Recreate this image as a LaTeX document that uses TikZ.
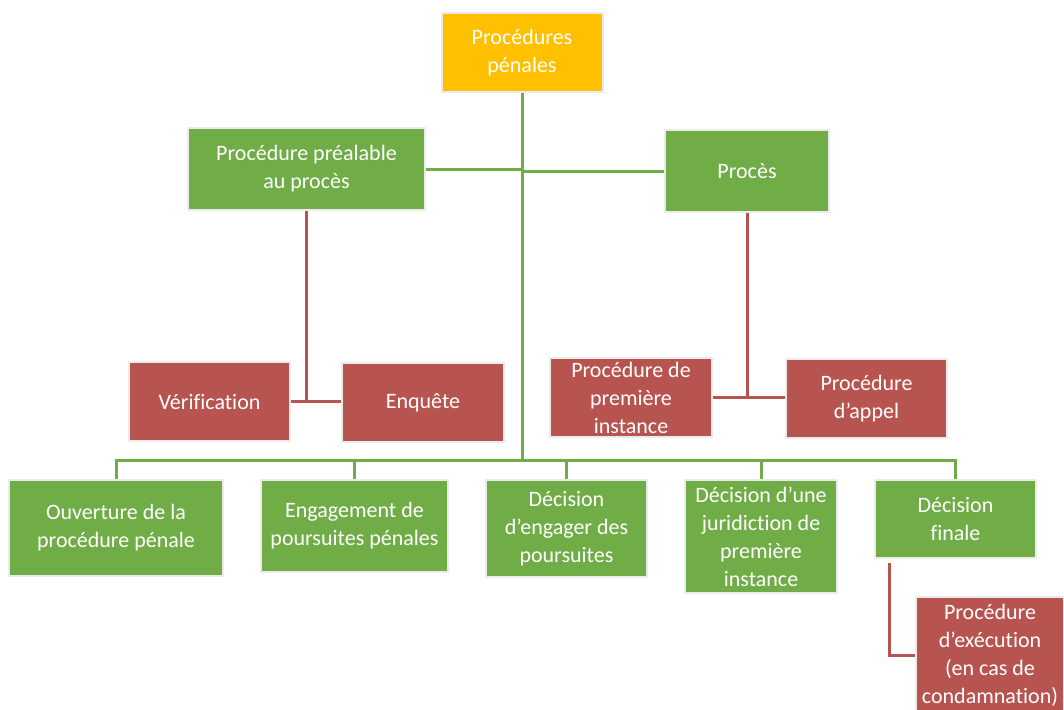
\documentclass[tikz,border=0pt]{standalone}
\usepackage{fontspec}
\setmainfont{Carlito}[Ligatures={NoCommon}]
\usepackage{tikz}
\usetikzlibrary{positioning, calc}
\definecolor{goldbox}{HTML}{FFC000}
\definecolor{greenbox}{HTML}{70AD47}
\definecolor{redbox}{HTML}{B85450}
\tikzstyle{basebox}=[rectangle,draw=black!8,line width=1pt,text=white,
align=center,inner sep=0pt,font=\fontsize{11}{14}\selectfont]
\tikzstyle{rootnode}=[basebox, fill=goldbox]
\tikzstyle{stagenode}=[basebox, fill=greenbox]
\tikzstyle{subnode}=[basebox, fill=redbox]
\tikzstyle{greenline} = [draw=greenbox, line width=1.5pt]
\tikzstyle{redline} = [draw=redbox, line width=1.5pt]

\begin{document}
\begin{tikzpicture}[x=0.5pt, y=-0.5pt]
    \useasboundingbox (0,0) rectangle (1064,709);
    \begin{scope}
    \clip (0,0) rectangle (1064,709);
    \node[rootnode, minimum width=80.5pt, minimum height=39.5pt] (proc) at (522,52.5) {Procédures\\pénales};
    
    \node[stagenode, minimum width=118.5pt, minimum height=41pt] (prealable) at (306.5,169) {Procédure préalable\\au procès};
    \node[stagenode, minimum width=82pt, minimum height=41pt] (proces) at (747,171) {Procès};
    
    \node[subnode, minimum width=80.5pt, minimum height=39.5pt] (verif) at (209.5,401.5) {Vérification};
    \node[subnode, minimum width=81pt, minimum height=39.5pt] (enquete) at (423,402.5) {Enquête};
    \node[subnode, minimum width=81pt, minimum height=39.5pt] (premiere) at (631,397.5) {Procédure de\\première\\instance};
    \node[subnode, minimum width=80.5pt, minimum height=39.5pt] (appel) at (866.5,398.5) {Procédure\\d’appel};
    
    \node[stagenode, minimum width=107pt, minimum height=48pt] (ouverture) at (116,528) {Ouverture de la\\procédure pénale};
    \node[stagenode, minimum width=93.5pt, minimum height=46pt] (engagement) at (354.5,526) {Engagement de\\poursuites pénales};
    \node[stagenode, minimum width=80.5pt, minimum height=48.5pt] (decengager) at (566.5,528.5) {Décision\\d’engager des\\poursuites};
    \node[stagenode, minimum width=76pt, minimum height=56.5pt] (decjuri) at (761,536.5) {Décision d’une\\juridiction de\\première\\instance};
    \node[stagenode, minimum width=80.5pt, minimum height=39pt] (decfinale) at (955.5,519) {Décision\\finale};
    
    \node[subnode, minimum width=74pt, minimum height=58pt] (execution) at (990,655) {Procédure\\d’exécution\\(en cas de\\condamnation)};
    
    \coordinate (junction) at (522,460);
    
    \draw[greenline] (proc.south) -- (junction);
    \draw[greenline] (prealable.east) -- (proc.south |- prealable.east);
    \draw[greenline] (proces.west) -- (proc.south |- proces.west);
    \draw[greenline] (ouverture.north) |- (decfinale.north |- junction) -- (decfinale.north);
    \draw[greenline] (engagement.north) -- (engagement.north |- junction);
    \draw[greenline] (decengager.north) -- (decengager.north |- junction);
    \draw[greenline] (decjuri.north) -- (decjuri.north |- junction);
    
    \draw[redline] (prealable.south) -- (prealable.south |- verif.east);
    \draw[redline] (verif.east) -- (verif.east -| enquete.west);
    \draw[redline] (proces.south) -- (proces.south |- premiere.east);
    \draw[redline] (premiere.east) -- (premiere.east -| appel.west);
    \draw[redline] ([xshift=7.5pt, yshift=-2pt]decfinale.south west) |- (execution.west);
    \end{scope}
\end{tikzpicture}
\end{document}
